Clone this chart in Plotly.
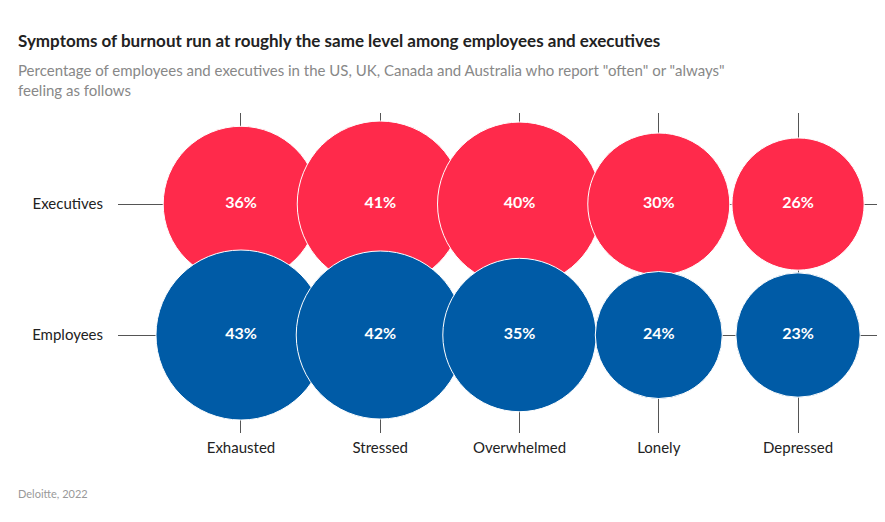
import plotly.graph_objects as go

symptoms = ["Exhausted", "Stressed", "Overwhelmed", "Lonely", "Depressed"]
groups = ["Employees", "Executives"]
executives = [36, 41, 40, 30, 26]
employees = [43, 42, 35, 24, 23]
colors = {"Executives": "#FF2A4B", "Employees": "#005BA6"}

W, H = 885, 522
L, R, T, B = 110, 5, 105, 97
max_d = 170
sizeref = 2 * max(executives + employees) / max_d ** 2


def px(x, y):
    # figure pixel -> plot-area paper coords
    return (x - L) / (W - L - R), (H - B - y) / (H - T - B)


fig = go.Figure()
for g, vals in [("Executives", executives), ("Employees", employees)]:
    fig.add_trace(go.Scatter(
        x=list(range(len(symptoms))),
        y=[groups.index(g)] * len(symptoms),
        mode="markers+text",
        marker=dict(size=vals, sizemode="area", sizeref=sizeref, color=colors[g],
                    opacity=1, line=dict(color="white", width=1)),
        text=[f"<b>{v}%</b>" for v in vals],
        textfont=dict(color="white", size=16, family="Lato"),
        textposition="middle center",
        showlegend=False,
        cliponaxis=False,
    ))

notes = [
    ("<b>Symptoms of burnout run at roughly the same level among employees and executives</b>",
     33, "middle", 17, "#222"),
    ('Percentage of employees and executives in the US, UK, Canada and Australia who report "often" or "always"<br>feeling as follows',
     51, "top", 15, "#888"),
    ("Deloitte, 2022", 485, "middle", 11, "#999"),
]
annotations = []
for text, ypx, anchor, size, col in notes:
    ax, ay = px(8, ypx)
    annotations.append(dict(text=text, x=ax, y=ay, xref="paper", yref="paper",
                            xanchor="left", yanchor=anchor, showarrow=False, align="left",
                            font=dict(size=size, color=col)))

fig.update_layout(
    width=W, height=H,
    margin=dict(l=L, r=R, t=T, b=B),
    paper_bgcolor="white", plot_bgcolor="white",
    font=dict(family="Lato", color="#222"),
    xaxis=dict(range=[-0.883, 4.646], tickvals=list(range(5)), ticktext=symptoms,
               showgrid=True, gridcolor="#555", gridwidth=1, zeroline=False,
               tickfont=dict(size=15, color="#222"), ticks="", ticklabelstandoff=4),
    yaxis=dict(range=[-0.748, 1.695], tickvals=[0, 1], ticktext=groups,
               showgrid=True, gridcolor="#555", gridwidth=1, zeroline=False,
               tickfont=dict(size=15, color="#222"), ticks="", ticklabelstandoff=14),
    annotations=annotations,
)
fig.write_html("out.html")
